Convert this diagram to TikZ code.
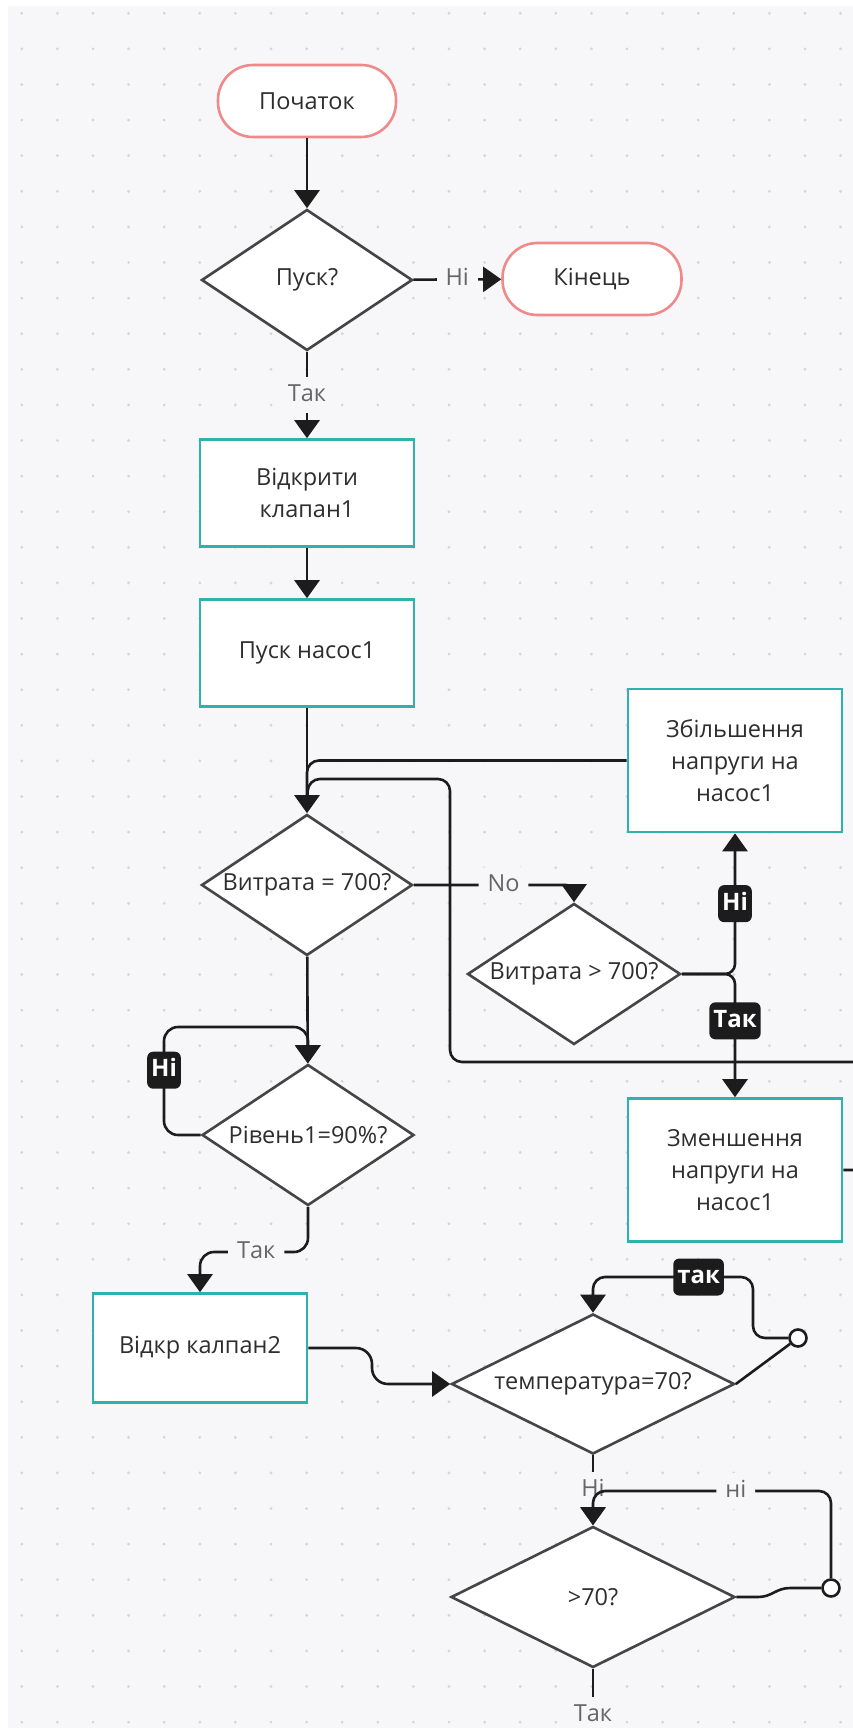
\documentclass[tikz,border=0pt]{standalone}
\usepackage{fontspec}
\setmainfont{Open Sans}
\usepackage{tikz}
\usetikzlibrary{arrows.meta}
\usetikzlibrary{shapes.geometric}

\definecolor{canvas}{HTML}{F7F7F9}
\definecolor{griddot}{HTML}{D6D6DB}
\definecolor{termred}{HTML}{F08A8A}
\definecolor{procteal}{HTML}{2EB2B0}
\definecolor{decgray}{HTML}{454545}
\definecolor{wire}{HTML}{1C1C1C}
\definecolor{txt}{HTML}{2E2E2E}
\definecolor{lbltxt}{HTML}{666666}

\tikzset{
  base/.style={font=\fontsize{23.5}{32}\selectfont, text=txt, align=center, line width=2.6pt},
  term/.style={base, draw=termred, fill=white, rounded corners=35pt, minimum width=178pt, minimum height=72pt},
  proc/.style={base, draw=procteal, fill=white, minimum width=214pt, minimum height=107pt},
  dec/.style={base, diamond, draw=decgray, fill=white, inner sep=0pt, aspect=1.5, minimum width=211pt, minimum height=141pt},
  wirel/.style={line width=2.6pt, draw=wire},
  arr/.style={wirel, -{Triangle[width=25pt,length=18pt]}},
  lbl/.style={font=\fontsize{23.5}{32}\selectfont, text=lbltxt, fill=canvas, inner xsep=9pt, inner ysep=8pt, text height=16pt, text depth=4pt},
  tagbox/.style={font=\fontsize{24}{32}\selectfont\bfseries, text=white, fill=wire, rounded corners=6pt, inner xsep=4pt, inner ysep=0pt, minimum height=37pt, text height=17pt, text depth=4pt},
  hub/.style={circle, draw=wire, fill=white, line width=2.6pt, minimum size=17pt, inner sep=0pt}
}

\begin{document}
\begin{tikzpicture}[x=1pt,y=-1pt]
\useasboundingbox (0,0) rectangle (853,1728);
\fill[white] (0,0) rectangle (853,1728);
\fill[canvas] (8,6) rectangle (853,1728);
\foreach \i in {0,...,23}
  \foreach \j in {0,...,48}
    \fill[griddot] ({21.8+35.6*\i},{13.3+35.6*\j}) circle (1.6pt);

\node[term] (start) at (307,101) {Початок};
\node[dec] (pusk) at (307,280) {Пуск?};
\node[term, minimum width=179pt] (stop) at (592,279) {Кінець};
\node[proc] (valve1) at (307,493) {Відкрити\\клапан1};
\node[proc] (pump1) at (307,653) {Пуск насос1};
\node[dec] (flow) at (307,885) {Витрата = 700?};
\node[dec, minimum width=213pt] (flowhi) at (574,974) {Витрата > 700?};
\node[proc, minimum height=143pt] (volup) at (735,760.5) {Збільшення\\напруги на\\насос1};
\node[proc, minimum height=143pt] (voldn) at (735,1170) {Зменшення\\напруги на\\насос1};
\node[dec, minimum width=212pt] (level) at (308,1135) {Рівень1=90\%?};
\node[proc, minimum height=109pt] (valve2) at (200,1348) {Відкр калпан2};
\node[dec, aspect=2, minimum width=283pt, minimum height=140pt] (temp) at (593,1384) {температура=70?};
\node[dec, aspect=2, minimum width=284pt] (hot) at (593,1597) {>70?};
\node[hub] (tmpjoin) at (798,1338) {};
\node[hub] (hotjoin) at (831,1588) {};
\coordinate (fin) at (593,1745);

\draw[arr] (start) -- (pusk);
\draw[arr] (pusk) -- node[lbl]{Ні} (stop);
\draw[arr] (pusk) -- node[lbl]{Так} (valve1);
\draw[arr] (valve1) -- (pump1);
\draw[arr] (pump1) -- (flow);
\draw[wirel, rounded corners=12pt, shorten >=14pt] (volup.west) -| (flow.north);
\draw[wirel, rounded corners=12pt, shorten >=14pt] (voldn.east) -- (880,1170) |- (450,1062) |- (308,779) -- (flow.north);
\draw[arr, rounded corners=8pt] (flow.east) -| node[lbl, pos=0.28]{No} (flowhi.north);
\draw[arr, rounded corners=10pt] (flowhi.east) -| node[tagbox, pos=0.75]{Ні} (volup.south);
\draw[arr, rounded corners=10pt] (flowhi.east) -| node[tagbox, pos=0.69]{Так} (voldn.north);
\draw[arr] (flow) -- (level);
\draw[arr, rounded corners=14pt] (level.west) -| node[tagbox, pos=0.8]{Ні} (164,1027) -| (level.north);
\draw[arr, rounded corners=14pt] (level.south) -- (308,1252) -| node[lbl, pos=0.24]{Так} (valve2.north);
\draw[arr, rounded corners=16pt] (valve2.east) -- (372,1348) -- (372,1384) -- (temp.west);
\draw[wirel] (temp.east) -- (tmpjoin);
\draw[arr, rounded corners=12pt] (tmpjoin) -| (753,1277) -| node[tagbox, pos=0.17]{так} (temp.north);
\draw[arr] (temp) -- node[lbl]{Ні} (hot);
\draw[wirel] (hot.east) -- (758,1597) .. controls (772,1597) and (776,1588) .. (790,1588) -- (hotjoin);
\draw[arr, rounded corners=12pt] (hotjoin) |- node[lbl, pos=0.7]{ні} (593,1491) -- (hot.north);
\draw[wirel] (hot) -- node[lbl, pos=0.61]{Так} (fin);
\end{tikzpicture}
\end{document}
